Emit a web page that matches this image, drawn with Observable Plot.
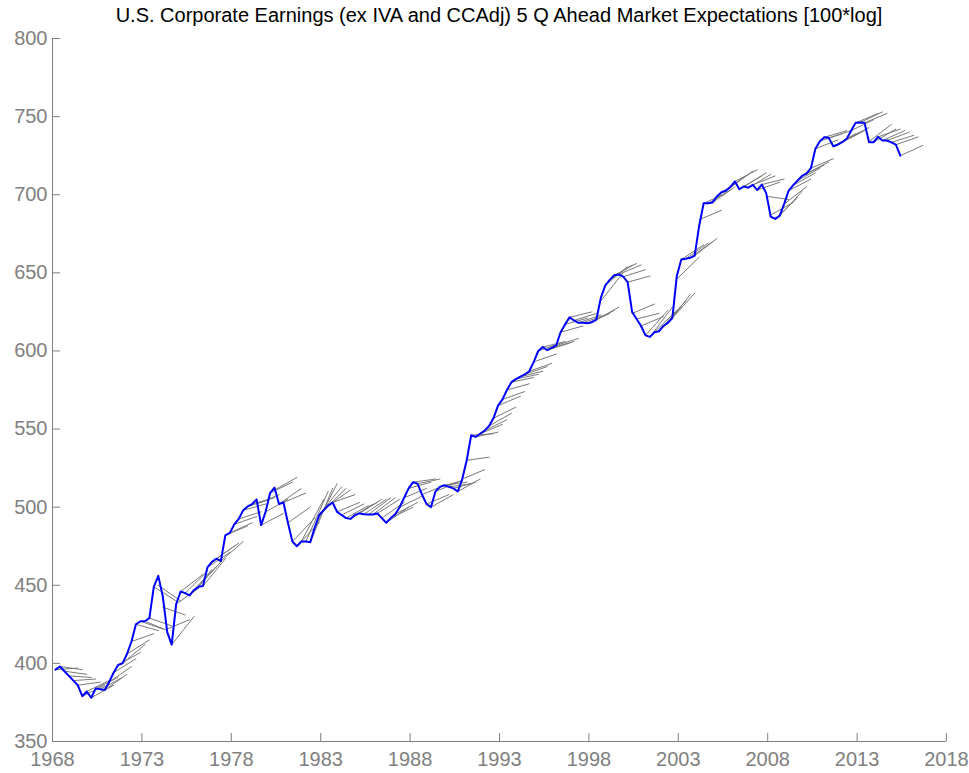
<!DOCTYPE html>
<html><head><meta charset="utf-8">
<script src="https://cdn.jsdelivr.net/npm/d3@7"></script>
<script src="https://cdn.jsdelivr.net/npm/@observablehq/plot@0.6"></script>
<style>
body{margin:0;background:#fff;font-family:"Liberation Sans",Arial,sans-serif;}
#title{position:relative;height:30px;width:969px;}
#title span{position:absolute;left:499px;top:3px;transform:translateX(-50%);white-space:nowrap;font-size:20px;line-height:24px;color:#000;}
</style></head><body>
<div id="title"><span>U.S. Corporate Earnings (ex IVA and CCAdj) 5 Q Ahead Market Expectations [100*log]</span></div>
<div id="chart"></div>
<script>
// Quarterly series, first quarter = 1968Q1
const startYear = 1968;
const horizon = 5; // quarters ahead
const actual = [
396,398,395,392,389,386,379,382,378,384,
383.5,383,388,394,399,400,406,414,425,427,
427,429,449,456,443,420,412,438,446,445,
443.5,447,449,449.5,461.5,465,467,465.5,482,483.5,
489,492.5,498,500.5,502,505,488.5,497,509,512.5,
502,503,490,478,475,478,478,477.5,487,495,
498,501,503,497,495,493,492.5,495,496,495.5,
495.3,495.3,496,493,490,493,495.5,500,506,512,
516,515,508,502,500,510,513,514,513,512,
510,518,530,546,545,547,549,552,557,565,
569,575,580,582,583.5,585,587,593,600,602.5,
600.5,602,603.5,612,617,621.5,619.5,618,618,617.7,
618.4,620,634,642,645.5,648.5,649,647.5,644,625,
620.5,616,610,609,612,612.6,616,618,621,648,
658.5,659,659.6,661,680,694.5,694.5,695,699,701.6,
702.5,705,708.5,703.5,705.3,704.5,706.3,703,706.5,701,
686,684.5,686.5,694,702.5,706,709,712,713.5,717,
729.4,734.3,736.8,736.4,731,732,733.6,735.8,741,746,
746.2,746,733.6,733.6,737,734.7,734.7,733.5,732,725
];
// Forecast made in each quarter: starting level and level 5 quarters ahead
const fcStart = [
396,398,395,392,389,386,379,382,378,384,
383.5,383,388,394,399,400,406,414,425,427,
427,429,449,450,436,422,412,438,446,445,
443.5,447,449,449.5,461.5,465,467,465.5,482,483.5,
489,492.5,498,500.5,502,502,488.5,497,509,511,
502,503,490,478,475,478,478,477.5,487,495,
498,501,503,497,495,493,492.5,495,496,495.5,
495.3,495.3,496,493,490,493,495.5,500,506,512,
516,515,508,502,500,510,513,514,513,512,
510,518,530,546,545,547,549,552,557,565,
569,575,580,582,583.5,585,587,593,600,602.5,
600.5,602,603.5,612,617,621.5,619.5,618,618,617.7,
618.4,620,632,642,645.5,648.5,649,647.5,644,624,
620.5,616,610,609,612,612.6,616,618,621,646,
658.5,659,659.6,661,684,694.5,694.5,695,699,701.6,
702.5,705,708.5,703.5,705.3,704.5,706.3,703,706.5,699,
687,684.5,686.5,694,702.5,706,709,712,713.5,717,
729.4,734.3,736.8,736.4,731,732,733.6,735.8,741,746,
746.2,746,734,733.6,737,734.7,734.7,733.5,732,725
];
const fcEnd = [
397,396,393,391,390,388,386,389,386,391,
391,393,398,403,407,412,415,419,421,422,
421,424,440,440,431,428,430,448,457,459,
460,462,465,467,471,475,477,478,488,490,
494,497,502,505,506,508,496,505,516,519,
512,509,500,493,490,505,510,512,515,513,
512,511,508,503,502,501,502,503,505,505,
506,506,505,503,500,500,503,507,512,516,
518,518,514,508,508,516,517,516,515,516,
518,524,532,547,548,553,556,560,564,571,
574,579,583,585,587,590,592,598,605,606,
605,606,608,616,621,625,624,623,623,624,
626,628,650,654,655,656,655,652,648,630,
624,622,626,628,626,628,632,636,637,660,
668,669,670,672,690,701,703,705,709,711,
713,715,716,712,714,713,712,708,710,697,
695,698,702,705,710,714,717,719,721,723,
735,739,741,741,739,740,741,743,748,752,
753,752,745,742,742,741,740,738,737,731.5
];
const xTicks = [1968,1973,1978,1983,1988,1993,1998,2003,2008,2013,2018];
const yTicks = [350,400,450,500,550,600,650,700,750,800];

const qDate = i => startYear + i / 4 + 1 / 6;
const actualRows = actual.map((v, i) => ({t: qDate(i), v}));
const fcRows = fcStart.flatMap((s, i) => [
  {t: qDate(i), v: s, id: i},
  {t: qDate(i + horizon), v: fcEnd[i], id: i}
]);

const W = 969, H = 743, mT = 8, mL = 52, mR = 23, mB = 32;
const frameW = W - mL - mR, frameH = H - mT - mB, tickLen = 8;
const axisGrey = "#808080";

const chart = Plot.plot({
  width: W, height: H,
  marginTop: mT, marginLeft: mL, marginRight: mR, marginBottom: mB,
  style: {fontFamily: "'Liberation Sans', Arial, sans-serif", background: "#fff", overflow: "visible"},
  x: {domain: [1968, 2018], label: null},
  y: {domain: [350, 800], label: null},
  marks: [
    Plot.line(fcRows, {x: "t", y: "v", z: "id", stroke: "#7a7a7a", strokeWidth: 1}),
    Plot.line(actualRows, {x: "t", y: "v", stroke: "#0000ff", strokeWidth: 2}),
    Plot.ruleX([1968], {stroke: axisGrey}),
    Plot.ruleY([350], {stroke: axisGrey}),
    Plot.tickX(xTicks, {x: d => d, stroke: axisGrey, insetTop: frameH - tickLen}),
    Plot.tickY(yTicks, {y: d => d, stroke: axisGrey, insetRight: frameW - tickLen}),
    Plot.axisX(xTicks, {tickSize: 0, tickPadding: 10, tickFormat: d => String(d), fill: axisGrey, fontSize: 20, label: null}),
    Plot.axisY(yTicks, {tickSize: 0, tickPadding: 5, tickFormat: d => String(d), fill: axisGrey, fontSize: 20, label: null})
  ]
});
document.getElementById("chart").appendChild(chart);
</script>
</body></html>
